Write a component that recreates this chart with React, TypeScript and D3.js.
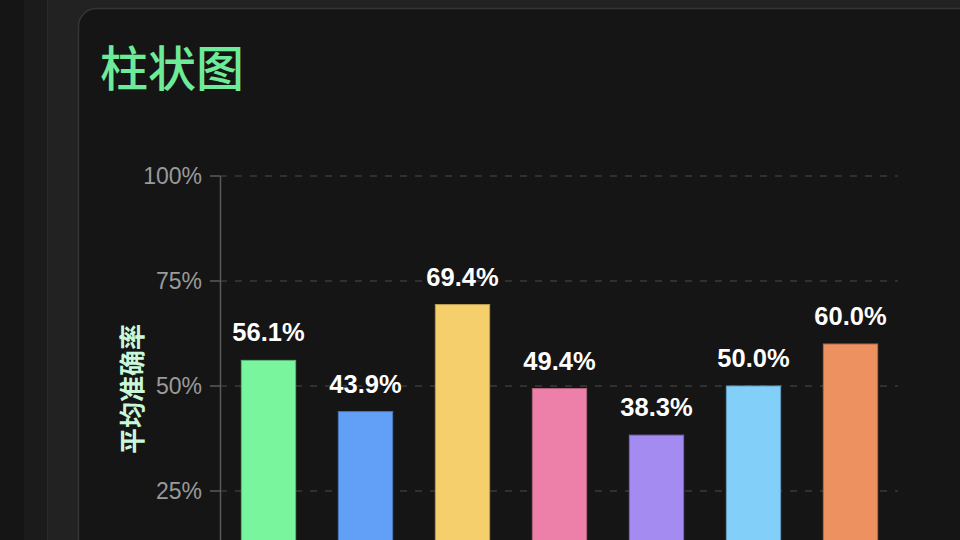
import React from 'react';
import * as d3 from 'd3';

const categories = ['A', 'B', 'C', 'D', 'E', 'F', 'G'];
const accuracy = [56.1, 43.9, 69.4, 49.4, 38.3, 50.0, 60.0];
const barColors = ['#78f59d', '#62a0f7', '#f5cf6c', '#ed80a8', '#a48bf1', '#82cff9', '#ee9160'];
const yTicks = [25, 50, 75, 100];

function BarChart() {
  const width = 960;
  const height = 540;

  const x = d3
    .scaleBand()
    .domain(categories)
    .range([220, 899])
    .paddingInner(0.44)
    .paddingOuter(0.22);

  // 0% falls below the visible window, like in the reference
  const y = d3.scaleLinear().domain([0, 100]).range([596, 176]);

  return (
    <svg width={width} height={height} style={{ display: 'block' }}>
      {/* page background */}
      <rect x={0} y={0} width={width} height={height} fill="#222222" />
      <rect x={0} y={0} width={24} height={height} fill="#151515" />
      <rect x={24} y={0} width={24} height={height} fill="#1b1b1b" />
      <line x1={47.5} y1={0} x2={47.5} y2={height} stroke="#2a2a2a" />
      {/* card */}
      <rect x={78.5} y={8.5} width={900} height={600} rx={18} fill="#151515" stroke="#353535" strokeWidth={1.5} />

      <text
        x={100}
        y={86}
        fill="#6eeb98"
        fontSize={48}
        fontWeight={500}
        fontFamily="'Noto Sans CJK SC', sans-serif"
      >
        柱状图
      </text>

      {/* grid + y ticks */}
      {yTicks.map((t) => (
        <g key={t}>
          <line
            x1={220}
            x2={898}
            y1={y(t)}
            y2={y(t)}
            stroke="#3a3a3a"
            strokeWidth={1.5}
            strokeDasharray="7,8"
          />
          <line x1={210} x2={220} y1={y(t)} y2={y(t)} stroke="#5a5a5a" strokeWidth={1.5} />
          <text
            x={202}
            y={y(t)}
            dy="0.35em"
            textAnchor="end"
            fill="#9a9a9a"
            fontSize={23}
            fontFamily="'Liberation Sans', Arial, sans-serif"
          >
            {t}%
          </text>
        </g>
      ))}
      <line x1={220.5} x2={220.5} y1={176} y2={height} stroke="#5a5a5a" strokeWidth={1.5} />

      <text
        transform="translate(142,389) rotate(-90)"
        textAnchor="middle"
        fill="#c8f7da"
        fontSize={26}
        fontWeight="bold"
        fontFamily="'Noto Sans CJK SC', sans-serif"
      >
        平均准确率
      </text>

      {/* bars */}
      {categories.map((c, i) => (
        <g key={c}>
          <rect
            x={x(c)}
            y={y(accuracy[i])}
            width={x.bandwidth()}
            height={y(0) - y(accuracy[i])}
            fill={barColors[i]}
            stroke={d3.color(barColors[i])!.darker(0.8).toString()}
            strokeWidth={1}
          />
          <text
            x={(x(c) as number) + x.bandwidth() / 2}
            y={y(accuracy[i]) - 19}
            textAnchor="middle"
            fill="#ffffff"
            fontSize={25.5}
            fontWeight="bold"
            fontFamily="'Liberation Sans', Arial, sans-serif"
            style={{ paintOrder: 'stroke' }}
            stroke="#151515"
            strokeWidth={2}
          >
            {accuracy[i].toFixed(1)}%
          </text>
        </g>
      ))}
    </svg>
  );
}

export default function App() {
  return (
    <div style={{ position: 'fixed', left: 0, top: 0, width: 960, height: 540, overflow: 'hidden' }}>
      <BarChart />
    </div>
  );
}
